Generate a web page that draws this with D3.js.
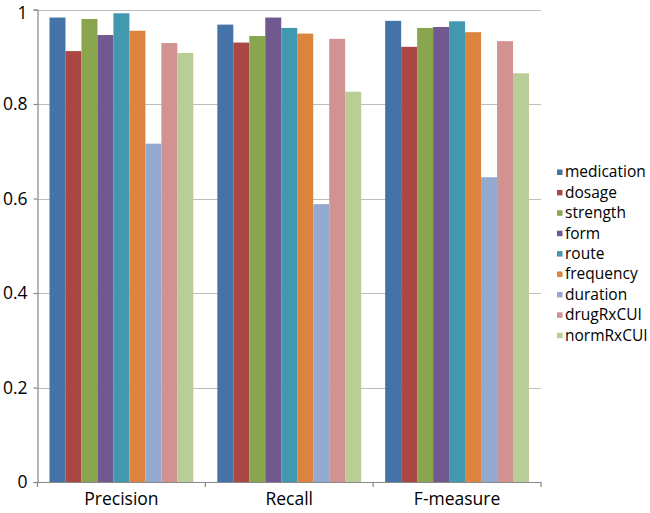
<!DOCTYPE html>
<html>
<head>
<meta charset="utf-8">
<script src="https://cdn.jsdelivr.net/npm/d3@7"></script>
<style>
  body { margin: 0; background: #fff; }
  svg { display: block; }
  text { font-family: "Open Sans", sans-serif; fill: #000; }
</style>
</head>
<body>
<svg width="650" height="513"></svg>
<script>
// Data
const measures = ["Precision", "Recall", "F-measure"];
const fields = ["medication", "dosage", "strength", "form", "route", "frequency", "duration", "drugRxCUI", "normRxCUI"];
const precision = [0.983, 0.912, 0.980, 0.946, 0.992, 0.955, 0.716, 0.929, 0.908];
const recall = [0.968, 0.930, 0.944, 0.983, 0.961, 0.949, 0.588, 0.938, 0.826];
const fmeasure = [0.976, 0.921, 0.961, 0.963, 0.975, 0.952, 0.645, 0.933, 0.865];
const yTicks = [0, 0.2, 0.4, 0.6, 0.8, 1];
const colors = ["#4572A7", "#AA4643", "#89A54E", "#71588F", "#4198AF", "#DB843D", "#93A9CF", "#D19392", "#B9CD96"];

const seriesValues = [precision, recall, fmeasure];

const svg = d3.select("svg");
const margin = { top: 9.5, left: 37.5, right: 541, bottom: 482 };

// scales
const x0 = d3.scaleBand()
    .domain(measures)
    .range([margin.left, margin.right])
    .paddingInner(0)
    .paddingOuter(0);

const x1 = d3.scaleBand()
    .domain(fields)
    .range([0, x0.bandwidth()])
    .paddingInner(0)
    .paddingOuter(0.75);

const y = d3.scaleLinear()
    .domain([0, 1])
    .range([margin.bottom, margin.top]);

// gridlines
svg.append("g")
    .selectAll("line")
    .data(yTicks.filter(d => d > 0))
    .join("line")
    .attr("x1", margin.left)
    .attr("x2", margin.right)
    .attr("y1", d => Math.round(y(d)) + 0.5)
    .attr("y2", d => Math.round(y(d)) + 0.5)
    .attr("stroke", "#bdbdbd")
    .attr("stroke-width", 1.2);

// bars
const groups = svg.append("g")
    .selectAll("g")
    .data(measures)
    .join("g")
    .attr("transform", d => `translate(${x0(d)},0)`);

groups.selectAll("rect")
    .data((m, i) => fields.map((f, j) => ({ field: f, value: seriesValues[i][j], color: colors[j] })))
    .join("rect")
    .attr("x", d => x1(d.field))
    .attr("width", x1.bandwidth())
    .attr("y", d => y(d.value))
    .attr("height", d => y(0) - y(d.value))
    .attr("fill", d => d.color);

// y axis
const yAxis = svg.append("g")
    .attr("transform", `translate(${margin.left},0)`)
    .call(d3.axisLeft(y).tickValues(yTicks).tickFormat(d3.format("")).tickSize(4).tickPadding(6));
yAxis.select(".domain").attr("stroke", "#888").attr("stroke-width", 1.2);
yAxis.selectAll(".tick line").attr("stroke", "#888").attr("stroke-width", 1.2);
yAxis.selectAll(".tick text")
    .style("font-family", "'Open Sans', sans-serif")
    .style("font-size", "17.5px")
    .attr("dy", d => d === 1 ? "0.52em" : "0.32em")
    .attr("fill", "#000");

// x axis
const xAxis = svg.append("g")
    .attr("transform", `translate(0,${margin.bottom})`)
    .call(d3.axisBottom(x0).tickSize(0).tickPadding(11));
xAxis.select(".domain").remove();
xAxis.append("line")
    .attr("x1", margin.left).attr("x2", margin.right)
    .attr("y1", 0.5).attr("y2", 0.5)
    .attr("stroke", "#888").attr("stroke-width", 1.2);
xAxis.selectAll(".sep")
    .data([margin.left, ...measures.map(m => x0(m) + x0.bandwidth())])
    .join("line")
    .attr("class", "sep")
    .attr("x1", d => d).attr("x2", d => d)
    .attr("y1", 0).attr("y2", 5)
    .attr("stroke", "#888").attr("stroke-width", 1.2);
xAxis.selectAll(".tick text")
    .style("font-family", "'Open Sans', sans-serif")
    .style("font-size", "17.5px")
    .attr("fill", "#000");

// legend
const legend = svg.append("g")
    .attr("transform", "translate(557,172)");
const items = legend.selectAll("g")
    .data(fields)
    .join("g")
    .attr("transform", (d, i) => `translate(0,${i * 20.4})`);
items.append("rect")
    .attr("x", 0).attr("y", -2.5)
    .attr("width", 5.5).attr("height", 5.5)
    .attr("fill", (d, i) => colors[i]);
items.append("text")
    .attr("x", 8)
    .attr("dy", "0.35em")
    .style("font-size", "15.5px")
    .text(d => d);
</script>
</body>
</html>
